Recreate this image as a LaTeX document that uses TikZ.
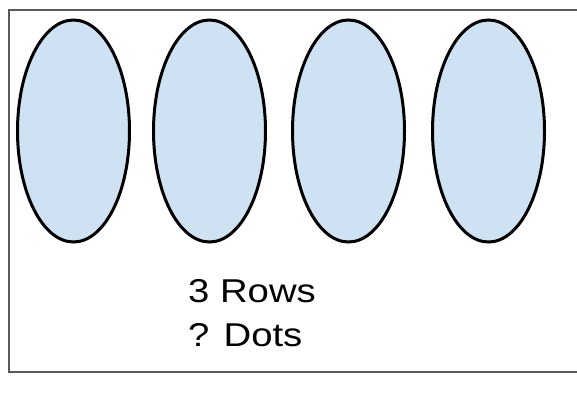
\documentclass[tikz,border=0pt]{standalone}
\usepackage{fontspec}
\setmainfont{Liberation Sans}
\newfontfamily\widefont[FakeStretch=1.16]{Liberation Sans}
\usetikzlibrary{
	shapes.geometric,
	positioning
}
\definecolor{ovalblue}{HTML}{CFE2F3}
\tikzset{
	outerbox/.style={draw=black!65, line width=2pt},
	ovalnode/.style={ellipse, draw, fill=ovalblue, line width=3pt, minimum width=112pt, minimum height=222pt, inner sep=0pt, outer sep=0pt},
	labelnode/.style={font=\widefont\fontsize{33}{40}\selectfont, inner sep=0pt, anchor=base west}
}

\begin{document}
\begin{tikzpicture}[x=1pt, y=-1pt]
	\useasboundingbox (0,0) rectangle (577,394);
	\draw[outerbox] (9,10) rectangle (590,372);

	\node[ovalnode] (oval1) at (73.5,131) {};
	\node[ovalnode, right = 24pt of oval1] (oval2) {};
	\node[ovalnode, right = 27pt of oval2] (oval3) {};
	\node[ovalnode, right = 28pt of oval3] (oval4) {};

	\node[labelnode] (rows) at (188,302) {3 Rows};
	\node[labelnode] (dots) at (188,346) {? Dots};
\end{tikzpicture}
\end{document}
